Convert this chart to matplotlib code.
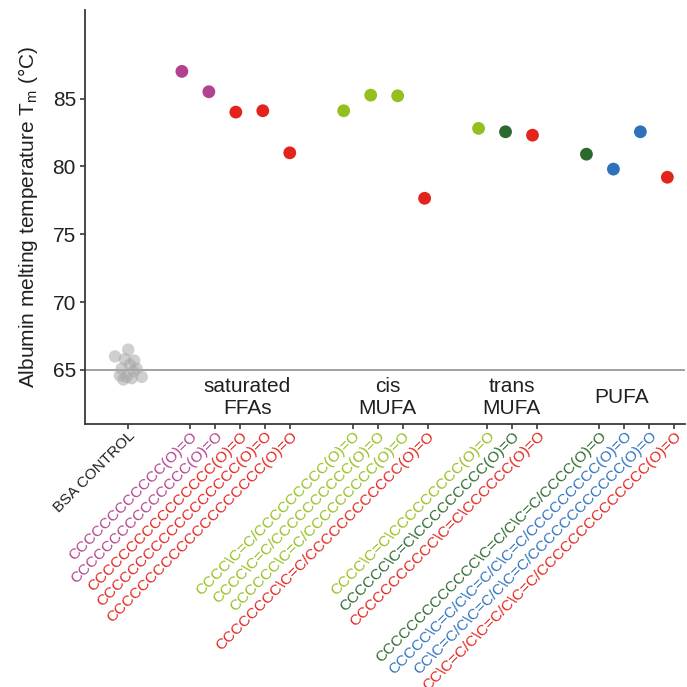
import numpy as np
import matplotlib.pyplot as plt

plt.rcParams['font.family'] = ['Liberation Sans', 'DejaVu Sans']

# --- data ---
bsa_jitter = [0.01, -0.48, -0.11, 0.23, 0.07, -0.23, 0.32, -0.30, -0.05, 0.14, 0.51, -0.17, 0.20]
bsa_tm = [66.5, 66.0, 65.8, 65.7, 65.4, 65.1, 65.1, 64.6, 64.5, 64.4, 64.5, 64.3, 64.9]

group_names = ['saturated\nFFAs', 'cis\nMUFA', 'trans\nMUFA', 'PUFA']

sat_smiles = ['CCCCCCCCCCCC(O)=O', 'CCCCCCCCCCCCCCC(O)=O', 'CCCCCCCCCCCCCCCC(O)=O',
              'CCCCCCCCCCCCCCCCCC(O)=O', 'CCCCCCCCCCCCCCCCCCCC(O)=O']
sat_tm = [87.0, 85.5, 84.0, 84.1, 81.0]
sat_col = ['mag', 'mag', 'red', 'red', 'red']

cis_smiles = ['CCCC\\C=C/CCCCCCCCC(O)=O', 'CCCC\\C=C/CCCCCCCCCC(O)=O',
              'CCCCCC\\C=C/CCCCCCCCC(O)=O', 'CCCCCCCC\\C=C/CCCCCCCCCCCC(O)=O']
cis_tm = [84.1, 85.25, 85.2, 77.65]
cis_col = ['lime', 'lime', 'lime', 'red']

trans_smiles = ['CCCC\\C=C\\CCCCCCCCC(O)=O', 'CCCCCC\\C=C\\CCCCCCCCC(O)=O',
                'CCCCCCCCCCC\\C=C\\CCCCCC(O)=O']
trans_tm = [82.8, 82.55, 82.3]
trans_col = ['lime', 'dgreen', 'red']

pufa_smiles = ['CCCCCCCCCCCCC\\C=C/C\\C=C/CCCC(O)=O',
               'CCCCC\\C=C/C\\C=C/C\\C=C/CCCCCCCCC(O)=O',
               'CC\\C=C/C\\C=C/C\\C=C/CCCCCCCCCCCC(O)=O',
               'CC\\C=C/C\\C=C/C\\C=C/CCCCCCCCCCCCCC(O)=O']
pufa_tm = [80.9, 79.8, 82.55, 79.2]
pufa_col = ['dgreen', 'blue', 'blue', 'red']

palette = {'mag': '#b2418f', 'red': '#e3241d', 'lime': '#93c01f',
           'dgreen': '#2b6a2e', 'blue': '#2e72bd'}

# --- layout ---
groups = [(sat_smiles, sat_tm, sat_col), (cis_smiles, cis_tm, cis_col),
          (trans_smiles, trans_tm, trans_col), (pufa_smiles, pufa_tm, pufa_col)]
group_start = [0, 6, 11, 15]
tick_offset = [0.30, 0.33, 0.33, 0.48]
tick_step = 25 / 27
bsa_pos = -2

fig = plt.figure(figsize=(6.87, 6.87), dpi=100)
ax = fig.add_axes([0.1237, 0.3828, 0.874, 0.6026])

ax.axhline(65, color='#9a9a9a', lw=1.3, zorder=1)

ax.scatter(bsa_pos + np.array(bsa_jitter), bsa_tm, s=80, color='#a8a8a8',
           alpha=0.55, edgecolors='none', zorder=2)

tick_x = [bsa_pos]
tick_lab = ['BSA CONTROL']
tick_col = ['#231f20']
for (smiles, tm, col), x0, off in zip(groups, group_start, tick_offset):
    xs = x0 + np.arange(len(tm))
    ax.scatter(xs, tm, s=85, color=[palette[c] for c in col],
               edgecolors='none', zorder=3)
    tick_x += list(x0 + off + tick_step * np.arange(len(tm)))
    tick_lab += smiles
    tick_col += [palette[c] for c in col]

# group captions
cap_x = [2.43, 7.62, 12.22, 16.3]
for name, cx in zip(group_names, cap_x):
    ax.text(cx, 63.0, name, ha='center', va='center', fontsize=15,
            color='#231f20', linespacing=1.2)

ax.set_xlim(-3.593, 18.67)
ax.set_ylim(61.02, 91.52)
ax.set_yticks([65, 70, 75, 80, 85])
ax.set_xticks(tick_x)
ax.set_xticklabels(tick_lab, rotation=45, ha='right', va='top',
                   rotation_mode='anchor', fontsize=11)
for t, c in zip(ax.get_xticklabels(), tick_col):
    t.set_color(c)

ax.set_ylabel('Albumin melting temperature T$_\\mathregular{m}$ (°C)',
              fontsize=15, color='#231f20', labelpad=9)

for s in ['top', 'right']:
    ax.spines[s].set_visible(False)
for s in ['left', 'bottom']:
    ax.spines[s].set_color('#3d3935')
    ax.spines[s].set_linewidth(1.3)
ax.tick_params(axis='both', direction='out', length=3.5, width=1.2,
               color='#3d3935')
ax.tick_params(axis='y', labelsize=15, labelcolor='#231f20', pad=3)
ax.tick_params(axis='x', pad=0)

fig.savefig('out.png', dpi=100)
